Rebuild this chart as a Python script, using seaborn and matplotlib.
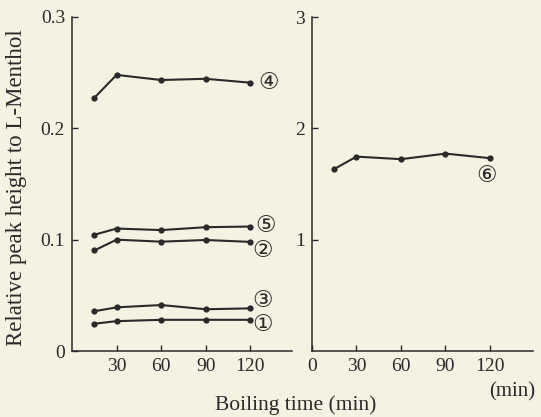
import matplotlib
matplotlib.use("Agg")
import matplotlib.pyplot as plt
import seaborn as sns
import pandas as pd

# ---- data ----
times = [15, 30, 60, 90, 120]
s1 = [0.0245, 0.0268, 0.0280, 0.0280, 0.0280]
s2 = [0.0903, 0.1000, 0.0982, 0.0997, 0.0980]
s3 = [0.0357, 0.0392, 0.0413, 0.0375, 0.0383]
s4 = [0.2274, 0.2480, 0.2434, 0.2445, 0.2410]
s5 = [0.1044, 0.1100, 0.1086, 0.1112, 0.1118]
s6 = [1.635, 1.746, 1.723, 1.773, 1.732]

left_series = {"①": s1, "②": s2, "③": s3, "④": s4, "⑤": s5}
right_series = {"⑥": s6}

left_xticks = [30, 60, 90, 120]
left_yticks = [0, 0.1, 0.2, 0.3]
left_yticklabels = ["0", "0.1", "0.2", "0.3"]
right_xticks = [0, 30, 60, 90, 120]
right_yticks = [1, 2, 3]

# label positions (data coords)
left_label_pos = {"④": (132, 0.241), "⑤": (130, 0.1124), "②": (128, 0.0894),
                  "③": (128, 0.045), "①": (128, 0.023)}
right_label_pos = {"⑥": (118, 1.57)}

sns.set_style("ticks")
plt.rcParams["font.family"] = ["Liberation Serif", "DejaVu Serif", "DejaVu Sans"]
bg = "#f4f2e3"
ink = "#2a2a2a"

fig = plt.figure(figsize=(5.41, 4.17), dpi=100, facecolor=bg)
axL = fig.add_axes([72/541, 1-351/417, 220/541, 334/417])
axR = fig.add_axes([312/541, 1-351/417, 221/541, 334/417])

def long_df(d):
    rows = []
    for k, v in d.items():
        for t, y in zip(times, v):
            rows.append({"series": k, "time": t, "value": y})
    return pd.DataFrame(rows)

for ax, d, pos in [(axL, left_series, left_label_pos), (axR, right_series, right_label_pos)]:
    ax.set_facecolor(bg)
    df = long_df(d)
    sns.lineplot(data=df, x="time", y="value", hue="series",
                 palette={k: ink for k in d}, marker="o", markersize=4.5,
                 markeredgewidth=0, linewidth=1.5, legend=False, ax=ax)
    for k, (x, y) in pos.items():
        ax.text(x, y, k, ha="center", va="center", fontsize=16.5, color=ink,
                family=["DejaVu Serif", "DejaVu Sans"])
    for s in ["top", "right"]:
        ax.spines[s].set_visible(False)
    for s in ["left", "bottom"]:
        ax.spines[s].set_color(ink)
        ax.spines[s].set_linewidth(1.1)
    ax.tick_params(direction="in", length=4.5, width=1.0, colors=ink,
                   labelsize=14, pad=5)
    ax.set_xlabel("")
    ax.set_ylabel("")

axL.set_xlim(0, 148)
axL.set_ylim(0, 0.3)
axL.set_xticks(left_xticks)
axL.set_yticks(left_yticks)
axL.set_yticklabels(left_yticklabels)

axR.set_xlim(0, 149)
axR.set_ylim(0, 3)
axR.set_xticks(right_xticks)
axR.set_yticks(right_yticks)

fig.text(17/541, 1-188/417, "Relative peak height to L-Menthol", rotation=90,
         ha="center", va="center", fontsize=16.5, color=ink)
fig.text(296/541, 1-405/417, "Boiling time (min)", ha="center", va="center",
         fontsize=15.5, color=ink)
fig.text(512/541, 1-392/417, "(min)", ha="center", va="center",
         fontsize=15, color=ink)

fig.savefig("out.png", dpi=100, facecolor=bg)
